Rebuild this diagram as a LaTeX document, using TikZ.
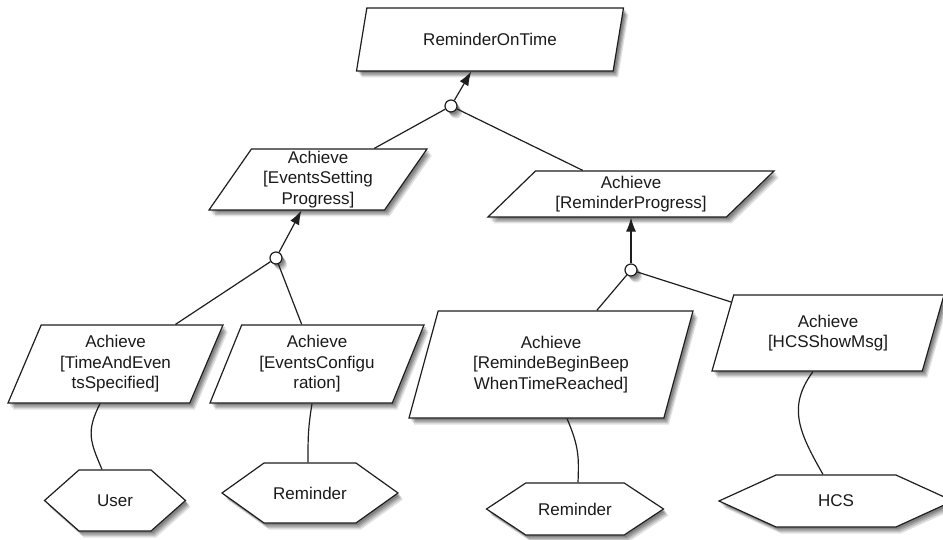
\documentclass[tikz,border=0pt]{standalone}
\usepackage{fontspec}
\setmainfont{Liberation Sans}
\usetikzlibrary{shapes.geometric,shapes.symbols,arrows.meta,shadows}
\definecolor{ink}{HTML}{1E1E1E}
\definecolor{txt}{HTML}{1A1A1A}
\newcommand\goalfont{\fontsize{17pt}{20.5pt}\selectfont}
\begin{document}
\begin{tikzpicture}[x=1pt,y=-1pt,
  % soft shadow built from a few stacked translucent copies
  softshadow/.style={
      drop shadow={shadow xshift=5pt,shadow yshift=-6.5pt,opacity=.12,fill=black},
      drop shadow={shadow xshift=4pt,shadow yshift=-5pt,opacity=.14,fill=black},
      drop shadow={shadow xshift=3pt,shadow yshift=-3.6pt,opacity=.16,fill=black},
      drop shadow={shadow xshift=2pt,shadow yshift=-2.2pt,opacity=.18,fill=black}},
  goal/.style={trapezium,trapezium stretches body,draw=ink,fill=white,
      line width=1.2pt,line join=miter,inner xsep=0pt,inner ysep=1pt,
      align=center,font=\goalfont,text=txt,softshadow},
  agent/.style={signal,signal to=west and east,draw=ink,fill=white,
      line width=1.2pt,line join=miter,inner sep=0pt,
      font=\goalfont,text=txt,softshadow},
  refine/.style={circle,draw=ink,fill=white,line width=1.2pt,
      minimum size=12pt,inner sep=0pt,softshadow},
  conn/.style={draw=ink,line width=1.2pt},
  arr/.style={conn,-{Latex[length=14pt,width=10pt]}}]
\useasboundingbox (0,0) rectangle (943,540);

% goals
\node[goal,trapezium left angle=54.46,trapezium right angle=125.54,
      minimum width=267pt,minimum height=63pt] (top) at (490,39.5) {ReminderOnTime};
\node[goal,trapezium left angle=54.20,trapezium right angle=125.80,
      minimum width=218pt,minimum height=61pt] (esp) at (318,179.5)
      {Achieve\\{[}EventsSetting\\Progress{]}};
\node[goal,trapezium left angle=38.90,trapezium right angle=141.10,
      minimum width=286pt,minimum height=46pt] (rp) at (631,194)
      {Achieve\\{[}ReminderProgress{]}};
\node[goal,trapezium left angle=60.57,trapezium right angle=119.43,
      minimum width=215pt,minimum height=78pt] (tae) at (115.5,364)
      {Achieve\\{[}TimeAndEven\\tsSpecified{]}};
\node[goal,trapezium left angle=61.70,trapezium right angle=118.30,
      minimum width=214pt,minimum height=78pt] (ec) at (317,364)
      {Achieve\\{[}EventsConfigu\\ration{]}};
\node[goal,trapezium left angle=63.65,trapezium right angle=116.35,
      minimum width=284pt,minimum height=107pt] (rbb) at (551,364.5)
      {Achieve\\{[}RemindeBeginBeep\\WhenTimeReached{]}};
\node[goal,trapezium left angle=60.50,trapezium right angle=119.50,
      minimum width=232pt,minimum height=76pt] (hsm) at (828,333)
      {Achieve\\{[}HCSShowMsg{]}};

% agents
\node[agent,signal pointer angle=83,minimum width=141pt,minimum height=61pt]
      (user) at (115,500.5) {User};
\node[agent,signal pointer angle=71,minimum width=176pt,minimum height=60pt]
      (remA) at (310,493) {Reminder};
\node[agent,signal pointer angle=67,minimum width=177pt,minimum height=52pt]
      (remB) at (575,509) {Reminder};
\node[agent,signal pointer angle=49,minimum width=234pt,minimum height=52pt]
      (hcs) at (836,501) {HCS};

% refinement points
\node[refine] (r1) at (451,106) {};
\node[refine] (r2) at (276,258) {};
\node[refine] (r3) at (631,270) {};

% refinements
\draw[arr] (r1) -- (top);
\draw[conn] (r1) -- (esp);
\draw[conn] (r1) -- (rp);
\draw[arr] (r2) -- (esp);
\draw[conn] (r2) -- (tae);
\draw[conn] (r2) -- (ec);
\draw[arr] (r3) -- (rp);
\draw[conn] (r3) -- (rbb);
\draw[conn] (r3) -- (hsm);

% responsibility links
\draw[conn] ([xshift=-15.5pt]tae.south) .. controls +(-14,28) and +(-12,-28) .. ([xshift=-13pt]user.north);
\draw[conn] ([xshift=-5pt]ec.south) .. controls +(-4,25) and +(0,-25) .. ([xshift=-2pt]remA.north);
\draw[conn] ([xshift=16pt]rbb.south) .. controls +(12,28) and +(1,-25) .. ([xshift=3pt]remB.north);
\draw[conn] ([xshift=-15pt]hsm.south) .. controls +(-26,35) and +(-24,-42) .. ([xshift=-13pt]hcs.north);
\end{tikzpicture}
\end{document}
